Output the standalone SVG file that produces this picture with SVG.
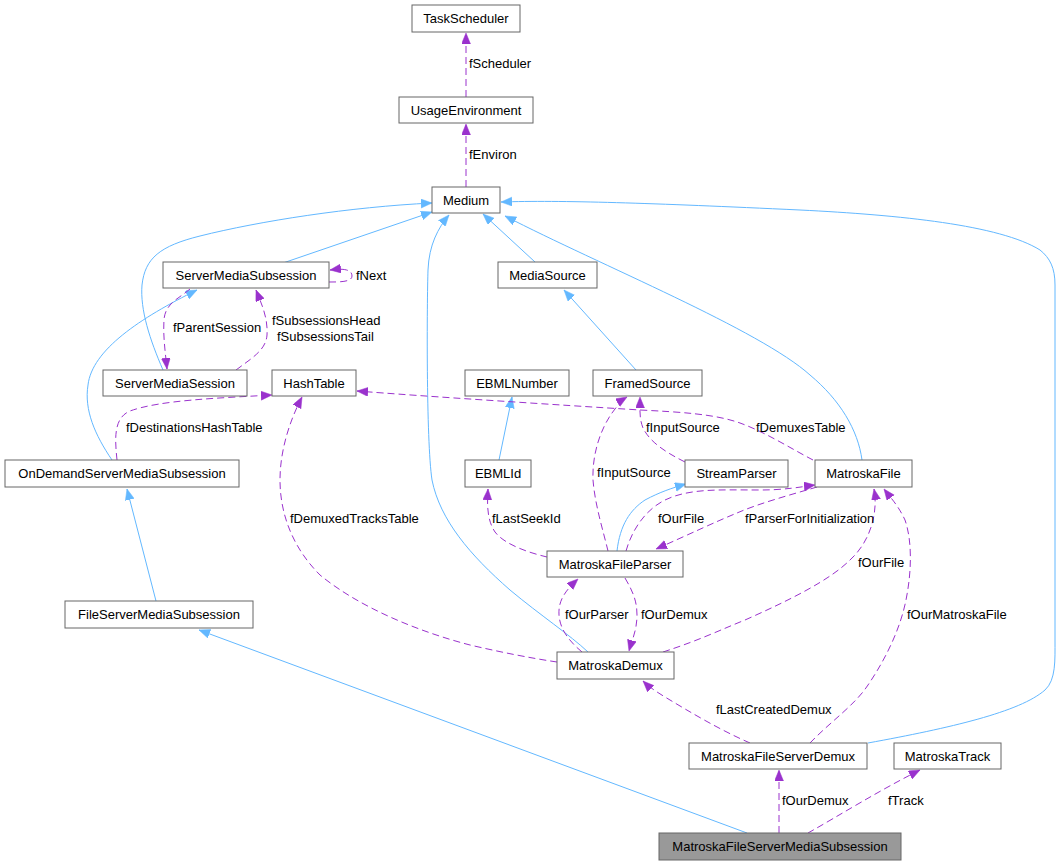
<svg xmlns="http://www.w3.org/2000/svg" width="1059" height="865" viewBox="0 0 1059 865">
<style>
.n rect{fill:#ffffff;stroke:#666666;stroke-width:1}
.n text,.lbl{font-family:"Liberation Sans",Arial,sans-serif;font-size:13px;fill:#000000}
.n text{text-anchor:middle}
.inh{fill:none;stroke:#63b8ff;stroke-width:1;marker-end:url(#ab)}
.use{fill:none;stroke:#9a32cd;stroke-width:1;stroke-dasharray:7,4;marker-end:url(#ap)}
</style>
<defs>
<marker id="ab" markerWidth="12" markerHeight="10" refX="11" refY="4.5" orient="auto" markerUnits="userSpaceOnUse"><path d="M0,0 L11,4.5 L0,9 z" fill="#63b8ff" stroke="#63b8ff" stroke-width="0.5"/></marker>
<marker id="ap" markerWidth="12" markerHeight="10" refX="11" refY="4.5" orient="auto" markerUnits="userSpaceOnUse"><path d="M0,0 L11,4.5 L0,9 z" fill="#9a32cd" stroke="#9a32cd" stroke-width="0.5"/></marker>
</defs>
<rect x="0" y="0" width="1059" height="865" fill="#ffffff"/>
<g id="connectors">
<!-- inheritance -->
<path class="inh" d="M283,263 L432,212"/>
<path class="inh" d="M163,370 C150,340 140,310 142,285 C145,258 160,246 200,236 C260,221 350,207 432,203"/>
<path class="inh" d="M535,262 L483,214"/>
<path class="inh" d="M862,460 C858,430 840,400 810,375 C760,330 600,265 505,216"/>
<path class="inh" d="M588,652 C570,635 540,615 510,590 C470,555 440,520 432,480 C426,440 427,300 428,270 C429,245 438,228 449,215"/>
<path class="inh" d="M868,743 C950,728 1020,712 1045,690 C1056,680 1055,660 1055,640 L1055,285 C1055,268 1050,258 1040,250 C1000,225 900,215 800,210 C650,203 560,200 501,202"/>
<path class="inh" d="M636,370 L564,290"/>
<path class="inh" d="M499,460 L512,397"/>
<path class="inh" d="M112,460 C95,435 84,410 88,385 C92,350 140,318 197,290"/>
<path class="inh" d="M156,601 L127,489"/>
<path class="inh" d="M747,833 L199,630"/>
<path class="inh" d="M617,551 C620,525 630,510 645,500 C660,492 672,488 686,484"/>
<!-- usage -->
<path class="use" d="M466,97 L466,33"/>
<path class="use" d="M466,187 L466,124"/>
<path class="use" d="M329,282 C340,282 352,282 352,276 C352,270 345,268 330,270"/>
<path class="use" d="M236,370 C252,358 266,350 267,335 C268,318 262,305 256,290"/>
<path class="use" d="M190,289 C180,298 165,303 164,320 C163,335 165,350 167,369"/>
<path class="use" d="M117,460 C115,440 113,418 130,411 C160,400 220,398 272,395"/>
<path class="use" d="M557,662 C530,658 500,652 470,645 C420,632 360,608 320,575 C290,545 280,510 280,480 C280,450 290,420 302,397"/>
<path class="use" d="M813,460 C790,448 765,432 740,423 C715,414 680,412 640,410 C560,405 420,396 357,391"/>
<path class="use" d="M685,462 C665,452 650,442 643,428 C639,418 640,408 640,397"/>
<path class="use" d="M608,551 C603,530 595,505 593,480 C592,455 600,430 612,413 C617,406 622,400 627,397"/>
<path class="use" d="M547,557 C530,553 505,545 495,532 C487,520 487,505 488,489"/>
<path class="use" d="M626,551 C632,530 645,510 665,500 C690,488 720,490 760,490 C785,490 800,487 815,485"/>
<path class="use" d="M817,487 C790,495 760,503 737,513 C715,522 690,534 656,549"/>
<path class="use" d="M663,652 C700,640 720,630 745,620 C790,600 830,580 850,560 C872,540 878,510 874,489"/>
<path class="use" d="M810,743 C830,722 855,705 868,685 C885,660 900,630 906,600 C912,570 912,540 905,520 C898,505 890,497 884,489"/>
<path class="use" d="M582,652 C570,642 560,630 559,615 C558,600 566,590 578,579"/>
<path class="use" d="M625,578 C632,590 637,600 637,615 C637,630 632,640 629,651"/>
<path class="use" d="M750,743 C720,730 690,712 670,700 C660,694 650,688 643,681"/>
<path class="use" d="M779,833 L779,770"/>
<path class="use" d="M808,833 C840,815 880,790 920,770"/>
</g>
<g id="labels">
<text class="lbl" x="469" y="68">fScheduler</text>
<text class="lbl" x="469" y="159">fEnviron</text>
<text class="lbl" x="356" y="280">fNext</text>
<text class="lbl" x="173" y="332">fParentSession</text>
<text class="lbl" x="272" y="325">fSubsessionsHead</text>
<text class="lbl" x="277" y="341">fSubsessionsTail</text>
<text class="lbl" x="126" y="432">fDestinationsHashTable</text>
<text class="lbl" x="646" y="432">fInputSource</text>
<text class="lbl" x="756" y="432">fDemuxesTable</text>
<text class="lbl" x="597" y="477">fInputSource</text>
<text class="lbl" x="290" y="523">fDemuxedTracksTable</text>
<text class="lbl" x="492" y="523">fLastSeekId</text>
<text class="lbl" x="658" y="523">fOurFile</text>
<text class="lbl" x="745" y="523">fParserForInitialization</text>
<text class="lbl" x="858" y="567">fOurFile</text>
<text class="lbl" x="565" y="619">fOurParser</text>
<text class="lbl" x="641" y="619">fOurDemux</text>
<text class="lbl" x="907" y="619">fOurMatroskaFile</text>
<text class="lbl" x="716" y="714">fLastCreatedDemux</text>
<text class="lbl" x="782" y="805">fOurDemux</text>
<text class="lbl" x="888" y="805">fTrack</text>
</g>
<g id="n_TaskScheduler" class="n"><rect x="412" y="5" width="108" height="27"/><text x="466" y="23">TaskScheduler</text></g>
<g id="n_UsageEnvironment" class="n"><rect x="399" y="97" width="134" height="26"/><text x="466" y="115">UsageEnvironment</text></g>
<g id="n_Medium" class="n"><rect x="432" y="187" width="68" height="26"/><text x="466" y="205">Medium</text></g>
<g id="n_ServerMediaSubsession" class="n"><rect x="163" y="262" width="166" height="26"/><text x="246" y="280">ServerMediaSubsession</text></g>
<g id="n_MediaSource" class="n"><rect x="498" y="262" width="99" height="26"/><text x="547.5" y="280">MediaSource</text></g>
<g id="n_ServerMediaSession" class="n"><rect x="103" y="370" width="144" height="26"/><text x="175" y="388">ServerMediaSession</text></g>
<g id="n_HashTable" class="n"><rect x="272" y="370" width="84" height="26"/><text x="314" y="388">HashTable</text></g>
<g id="n_EBMLNumber" class="n"><rect x="465" y="370" width="104" height="26"/><text x="517" y="388">EBMLNumber</text></g>
<g id="n_FramedSource" class="n"><rect x="593" y="370" width="109" height="26"/><text x="647.5" y="388">FramedSource</text></g>
<g id="n_OnDemandServerMediaSubsession" class="n"><rect x="5" y="460" width="234" height="27"/><text x="122" y="478">OnDemandServerMediaSubsession</text></g>
<g id="n_EBMLId" class="n"><rect x="465" y="460" width="66" height="27"/><text x="498" y="478">EBMLId</text></g>
<g id="n_StreamParser" class="n"><rect x="685" y="460" width="103" height="27"/><text x="736.5" y="478">StreamParser</text></g>
<g id="n_MatroskaFile" class="n"><rect x="815" y="460" width="97" height="27"/><text x="863.5" y="478">MatroskaFile</text></g>
<g id="n_MatroskaFileParser" class="n"><rect x="547" y="551" width="136" height="26"/><text x="615" y="569">MatroskaFileParser</text></g>
<g id="n_FileServerMediaSubsession" class="n"><rect x="65" y="601" width="188" height="27"/><text x="159" y="619">FileServerMediaSubsession</text></g>
<g id="n_MatroskaDemux" class="n"><rect x="557" y="652" width="117" height="27"/><text x="615.5" y="670">MatroskaDemux</text></g>
<g id="n_MatroskaFileServerDemux" class="n"><rect x="689" y="743" width="178" height="26"/><text x="778" y="761">MatroskaFileServerDemux</text></g>
<g id="n_MatroskaTrack" class="n"><rect x="894" y="743" width="107" height="26"/><text x="947.5" y="761">MatroskaTrack</text></g>
<g id="n_MatroskaFileServerMediaSubsession" class="n"><rect x="659" y="833" width="242" height="27" style="fill:#999999"/><text x="780" y="851">MatroskaFileServerMediaSubsession</text></g>
</svg>
